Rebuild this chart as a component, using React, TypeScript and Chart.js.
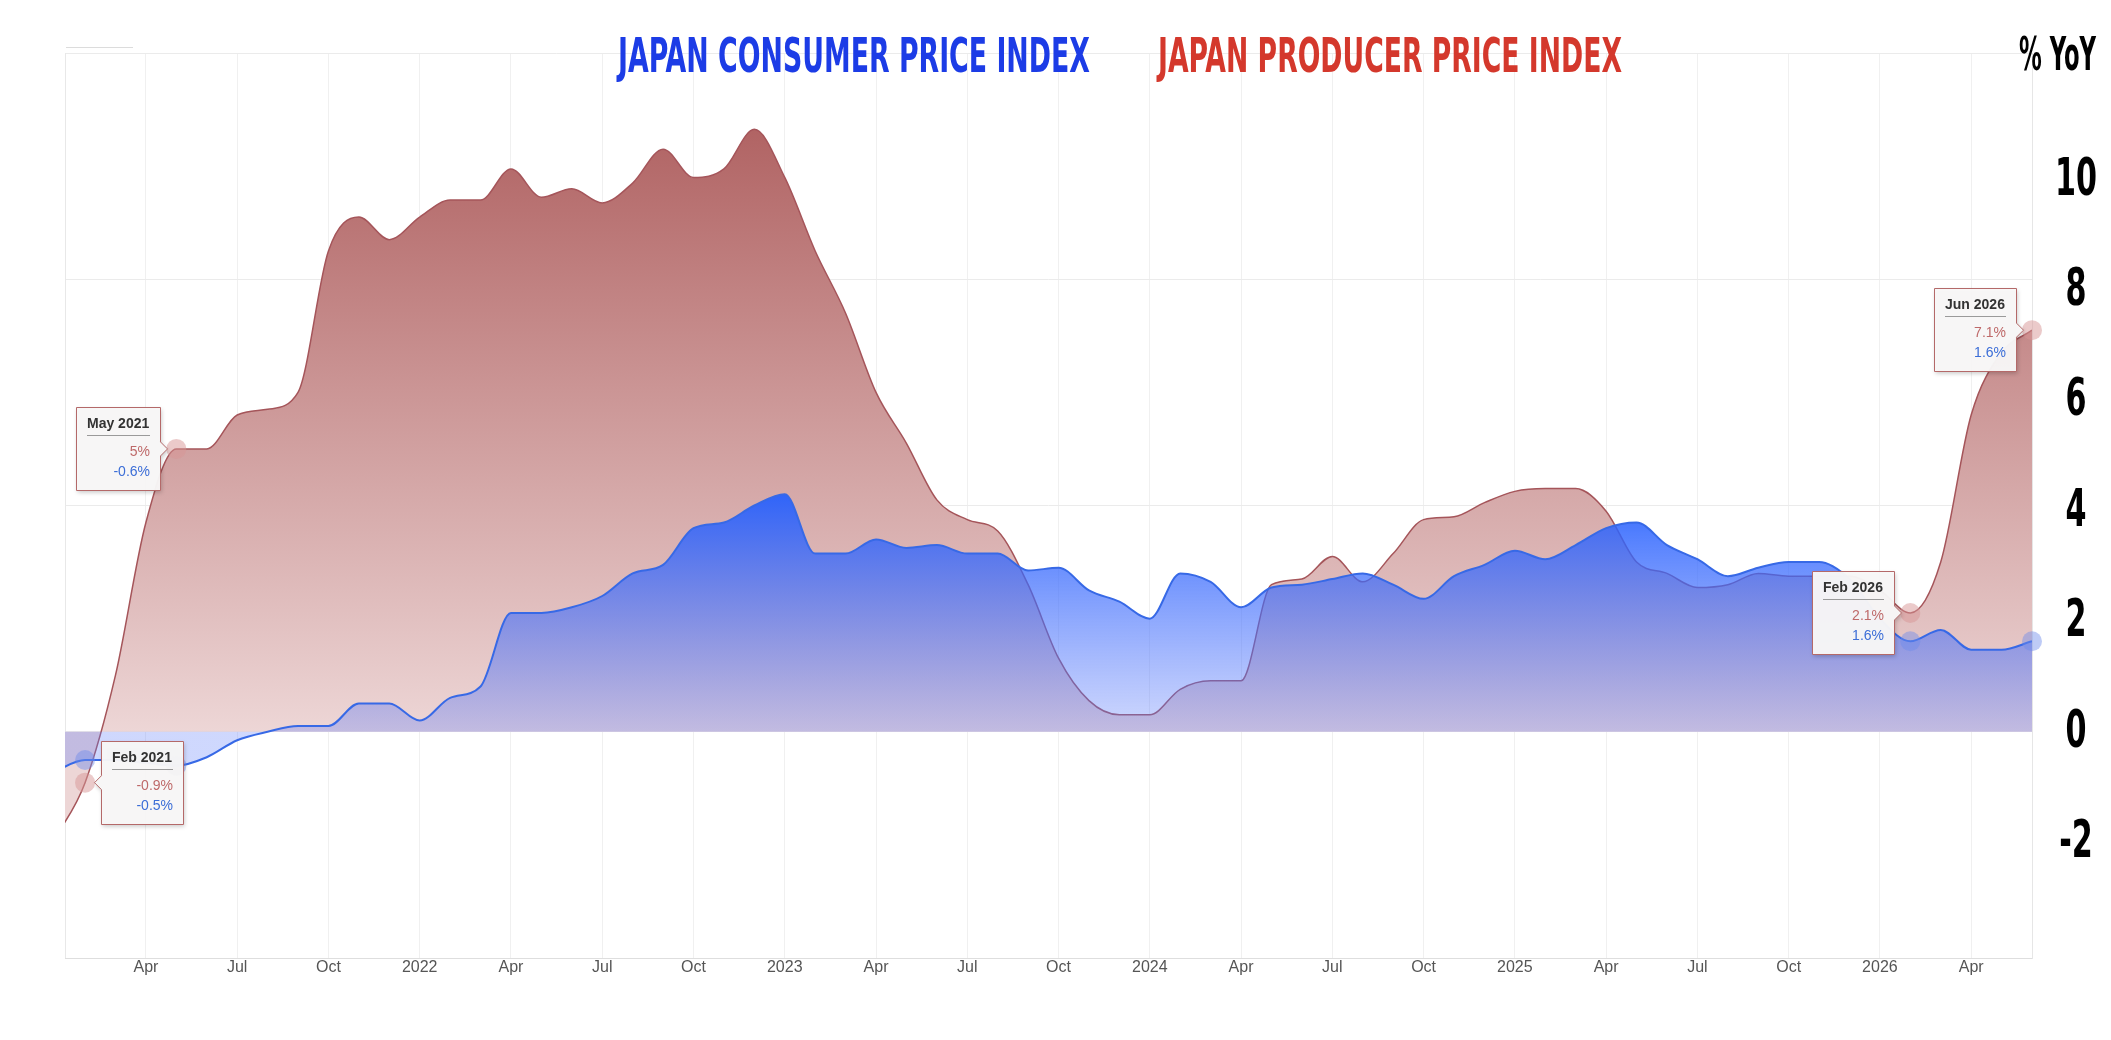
import { useEffect, useRef } from "react";
import { Chart, registerables } from "chart.js";

Chart.register(...registerables);

// ---------- DATA ----------
const START_YEAR = 2021;
const MONTH_NAMES = ["Jan", "Feb", "Mar", "Apr", "May", "Jun", "Jul", "Aug", "Sep", "Oct", "Nov", "Dec"];

// Japan Producer Price Index, % YoY, monthly from Jan 2021 to Jun 2026
const PPI = [
  -1.9, -0.9, 1.0, 3.7, 5.0, 5.0, 5.6, 5.7, 6.0, 8.5, 9.1, 8.7,
  9.1, 9.4, 9.4, 9.95, 9.45, 9.6, 9.35, 9.7, 10.3, 9.8, 9.95, 10.65,
  9.8, 8.5, 7.4, 6.0, 5.1, 4.1, 3.75, 3.55, 2.6, 1.3, 0.55, 0.3,
  0.3, 0.75, 0.9, 0.9, 2.6, 2.7, 3.1, 2.65, 3.15, 3.75, 3.8, 4.05,
  4.25, 4.3, 4.3, 3.9, 3.0, 2.8, 2.55, 2.6, 2.8, 2.75, 2.75, 2.75,
  2.5, 2.1, 3.0, 5.6, 6.7, 7.1,
];

// Japan Consumer Price Index, % YoY, monthly from Jan 2021 to Jun 2026
const CPI = [
  -0.7, -0.5, -0.5, -0.55, -0.6, -0.45, -0.15, 0.0, 0.1, 0.1, 0.5, 0.5,
  0.2, 0.6, 0.8, 2.1, 2.1, 2.2, 2.4, 2.8, 2.95, 3.6, 3.7, 4.0,
  4.2, 3.15, 3.15, 3.4, 3.25, 3.3, 3.15, 3.15, 2.85, 2.9, 2.5, 2.3,
  2.0, 2.8, 2.65, 2.2, 2.55, 2.6, 2.7, 2.8, 2.6, 2.35, 2.75, 2.95,
  3.2, 3.05, 3.3, 3.6, 3.7, 3.3, 3.05, 2.75, 2.9, 3.0, 3.0, 2.7,
  2.0, 1.6, 1.8, 1.45, 1.45, 1.6,
];

// x ticks: month index (0 = Jan 2021)
const X_TICKS = [3, 6, 9, 12, 15, 18, 21, 24, 27, 30, 33, 36, 39, 42, 45, 48, 51, 54, 57, 60, 63];
const Y_TICKS = [-4, -2, 0, 2, 4, 6, 8, 10, 12];
const Y_LABELLED = [10, 8, 6, 4, 2, 0, -2];

// highlighted months (tooltip call-outs)
const CALLOUT_MONTHS = [1, 4, 61, 65];
const CALLOUT_SIDES = ["right", "left", "left", "left"];

const TITLE_CPI = "JAPAN CONSUMER PRICE INDEX";
const TITLE_PPI = "JAPAN PRODUCER PRICE INDEX";
const UNIT_LABEL = "% YoY";

// ---------- STYLE ----------
const SANS = '"Liberation Sans", Arial, Helvetica, sans-serif';
const COND = '"Liberation Sans Narrow", "DejaVu Sans Condensed", "Liberation Sans", sans-serif';
const RED_LINE = "rgb(165,85,90)";
const BLUE_LINE = "rgb(55,105,230)";

function monthLabel(m: number) {
  return `${MONTH_NAMES[m % 12]} ${START_YEAR + Math.floor(m / 12)}`;
}
function tickLabel(m: number) {
  return m % 12 === 0 ? String(START_YEAR + m / 12) : MONTH_NAMES[m % 12];
}

function fitText(ctx: CanvasRenderingContext2D, text: string, x: number, y: number, w: number, font: string, color: string) {
  ctx.save();
  ctx.font = font;
  ctx.fillStyle = color;
  ctx.textAlign = "left";
  ctx.textBaseline = "alphabetic";
  const nat = ctx.measureText(text).width;
  ctx.translate(x, y);
  ctx.scale(w / nat, 1);
  ctx.fillText(text, 0, 0);
  ctx.restore();
}

function drawCallout(ctx: CanvasRenderingContext2D, px: number, py: number, side: string, title: string, l1: string, l2: string) {
  ctx.save();
  ctx.font = `bold 14px ${SANS}`;
  const tw = ctx.measureText(title).width;
  ctx.font = `14px ${SANS}`;
  const w = Math.round(Math.max(tw, ctx.measureText(l1).width, ctx.measureText(l2).width) + 22);
  const h = 83;
  const gap = 16;
  const caret = 7;
  const bx = Math.round(side === "right" ? px + gap : px - gap - w) + 0.5;
  const by = Math.round(py - 42) + 0.5;
  ctx.beginPath();
  if (side === "right") {
    ctx.moveTo(bx, by);
    ctx.lineTo(bx + w, by);
    ctx.lineTo(bx + w, by + h);
    ctx.lineTo(bx, by + h);
    ctx.lineTo(bx, py + caret);
    ctx.lineTo(bx - caret, py);
    ctx.lineTo(bx, py - caret);
  } else {
    ctx.moveTo(bx, by);
    ctx.lineTo(bx + w, by);
    ctx.lineTo(bx + w, py - caret);
    ctx.lineTo(bx + w + caret, py);
    ctx.lineTo(bx + w, py + caret);
    ctx.lineTo(bx + w, by + h);
    ctx.lineTo(bx, by + h);
  }
  ctx.closePath();
  ctx.shadowColor = "rgba(0,0,0,0.22)";
  ctx.shadowBlur = 4;
  ctx.shadowOffsetX = 1;
  ctx.shadowOffsetY = 2;
  ctx.fillStyle = "rgba(248,247,247,0.97)";
  ctx.fill();
  ctx.shadowColor = "transparent";
  ctx.strokeStyle = "rgb(180,105,105)";
  ctx.lineWidth = 1;
  ctx.stroke();

  ctx.textBaseline = "middle";
  ctx.font = `bold 14px ${SANS}`;
  ctx.fillStyle = "#333";
  ctx.textAlign = "left";
  ctx.fillText(title, bx + 10.5, by + 17);
  ctx.beginPath();
  ctx.moveTo(bx + 10.5, by + 28);
  ctx.lineTo(bx + w - 10.5, by + 28);
  ctx.strokeStyle = "#9a9a9a";
  ctx.lineWidth = 1.2;
  ctx.stroke();
  ctx.font = `14px ${SANS}`;
  ctx.textAlign = "right";
  ctx.fillStyle = "rgb(190,105,105)";
  ctx.fillText(l1, bx + w - 10.5, by + 45);
  ctx.fillStyle = "rgb(60,110,215)";
  ctx.fillText(l2, bx + w - 10.5, by + 65);
  ctx.restore();
}

const overlayPlugin = {
  id: "overlay",
  beforeDatasetsDraw(chart: any) {
    const { ctx, chartArea } = chart;
    ctx.save();
    ctx.strokeStyle = "#e8e8e8";
    ctx.lineWidth = 1;
    ctx.beginPath();
    ctx.moveTo(Math.round(chartArea.left) + 0.5, chartArea.top);
    ctx.lineTo(Math.round(chartArea.left) + 0.5, chartArea.bottom);
    ctx.stroke();
    ctx.beginPath();
    ctx.moveTo(66, 47.5);
    ctx.lineTo(133, 47.5);
    ctx.strokeStyle = "#dcdcdc";
    ctx.stroke();
    ctx.restore();
  },
  afterDatasetsDraw(chart: any) {
    const { ctx } = chart;
    const xs = chart.scales.x;
    const ys = chart.scales.y;
    ctx.save();
    CALLOUT_MONTHS.forEach((m) => {
      const px = xs.getPixelForValue(m);
      ctx.beginPath();
      ctx.arc(px, ys.getPixelForValue(CPI[m]), 10, 0, Math.PI * 2);
      ctx.fillStyle = "rgba(110,140,235,0.45)";
      ctx.fill();
      ctx.beginPath();
      ctx.arc(px, ys.getPixelForValue(PPI[m]), 10, 0, Math.PI * 2);
      ctx.fillStyle = "rgba(215,150,150,0.5)";
      ctx.fill();
    });
    ctx.restore();
    CALLOUT_MONTHS.forEach((m, i) => {
      const px = xs.getPixelForValue(m);
      const py = ys.getPixelForValue(PPI[m]);
      drawCallout(ctx, px, py, CALLOUT_SIDES[i], monthLabel(m), `${PPI[m]}%`, `${CPI[m]}%`);
    });
  },
  afterDraw(chart: any) {
    const { ctx } = chart;
    const ys = chart.scales.y;
    fitText(ctx, TITLE_CPI, 618, 72, 472, `bold 48px ${COND}`, "rgb(28,60,230)");
    fitText(ctx, TITLE_PPI, 1158, 72, 464, `bold 48px ${COND}`, "rgb(212,56,44)");
    fitText(ctx, UNIT_LABEL, 2019, 70, 77, `bold 46px ${COND}`, "#000");
    // y-axis tick labels (condensed, bold), centred right of the plot
    ctx.save();
    ctx.font = `bold 51px ${COND}`;
    const sx = 42 / ctx.measureText("10").width;
    const cx = chart.chartArea.right + 44;
    ctx.fillStyle = "#000";
    ctx.textAlign = "center";
    ctx.textBaseline = "alphabetic";
    Y_LABELLED.forEach((v) => {
      const y = ys.getPixelForValue(v) + 18.5 + (1.35 * v - 3.5);
      ctx.save();
      ctx.translate(cx, y);
      ctx.scale(sx, 1);
      ctx.fillText(String(v), 0, 0);
      ctx.restore();
    });
    ctx.restore();
  },
};

function redFill(c: any) {
  const chart = c.chart;
  if (!chart.chartArea) return "transparent";
  const y = chart.scales.y;
  const g = chart.ctx.createLinearGradient(0, y.getPixelForValue(10.8), 0, y.getPixelForValue(0));
  g.addColorStop(0, "rgb(176,98,98)");
  g.addColorStop(1, "rgb(237,214,214)");
  return g;
}

function blueFill(c: any) {
  const chart = c.chart;
  if (!chart.chartArea) return "transparent";
  const y = chart.scales.y;
  const g = chart.ctx.createLinearGradient(0, y.getPixelForValue(4.3), 0, y.getPixelForValue(0));
  g.addColorStop(0, "rgba(35,95,255,0.95)");
  g.addColorStop(1, "rgba(95,125,250,0.3)");
  return g;
}

export default function App() {
  const ref = useRef<HTMLCanvasElement>(null);
  useEffect(() => {
    if (!ref.current) return;
    const chart = new Chart(ref.current, {
      type: "line",
      data: {
        datasets: [
          {
            label: "Japan Consumer Price Index",
            data: CPI.map((v, i) => ({ x: i, y: v })),
            borderColor: BLUE_LINE,
            borderWidth: 2,
            backgroundColor: blueFill,
            fill: "origin",
            pointRadius: 0,
            cubicInterpolationMode: "monotone",
            order: 0,
          },
          {
            label: "Japan Producer Price Index",
            data: PPI.map((v, i) => ({ x: i, y: v })),
            borderColor: RED_LINE,
            borderWidth: 1.5,
            backgroundColor: redFill,
            fill: "origin",
            pointRadius: 0,
            cubicInterpolationMode: "monotone",
            order: 1,
          },
        ],
      } as any,
      options: {
        animation: false,
        responsive: true,
        maintainAspectRatio: false,
        layout: { padding: { left: 65, top: 53, right: 0, bottom: 0 } },
        plugins: { legend: { display: false }, tooltip: { enabled: false } },
        scales: {
          x: {
            type: "linear",
            min: 0.34,
            max: 65,
            afterBuildTicks: (s: any) => {
              s.ticks = X_TICKS.map((v) => ({ value: v }));
            },
            afterFit: (s: any) => {
              s.height = 82;
            },
            grid: { color: "#f0f0f0", drawTicks: false },
            border: { color: "#dedede" },
            ticks: {
              padding: 0,
              color: "#555",
              autoSkip: false,
              maxRotation: 0,
              font: { family: SANS, size: 16 },
              callback: (v: any) => tickLabel(Number(v)),
            },
          },
          y: {
            position: "right",
            min: -4,
            max: 12,
            afterBuildTicks: (s: any) => {
              s.ticks = Y_TICKS.map((v) => ({ value: v }));
            },
            afterFit: (s: any) => {
              s.width = 79;
            },
            grid: {
              color: (c: any) => (c.tick && c.tick.value % 4 === 0 ? "#ebebeb" : "rgba(0,0,0,0)"),
              drawTicks: false,
            },
            border: { color: "#e6e6e6" },
            ticks: { display: false },
          },
        },
      } as any,
      plugins: [overlayPlugin],
    });
    return () => chart.destroy();
  }, []);
  return (
    <div style={{ position: "fixed", left: 0, top: 0, width: 2111, height: 1040, background: "#fff" }}>
      <canvas ref={ref} />
    </div>
  );
}
